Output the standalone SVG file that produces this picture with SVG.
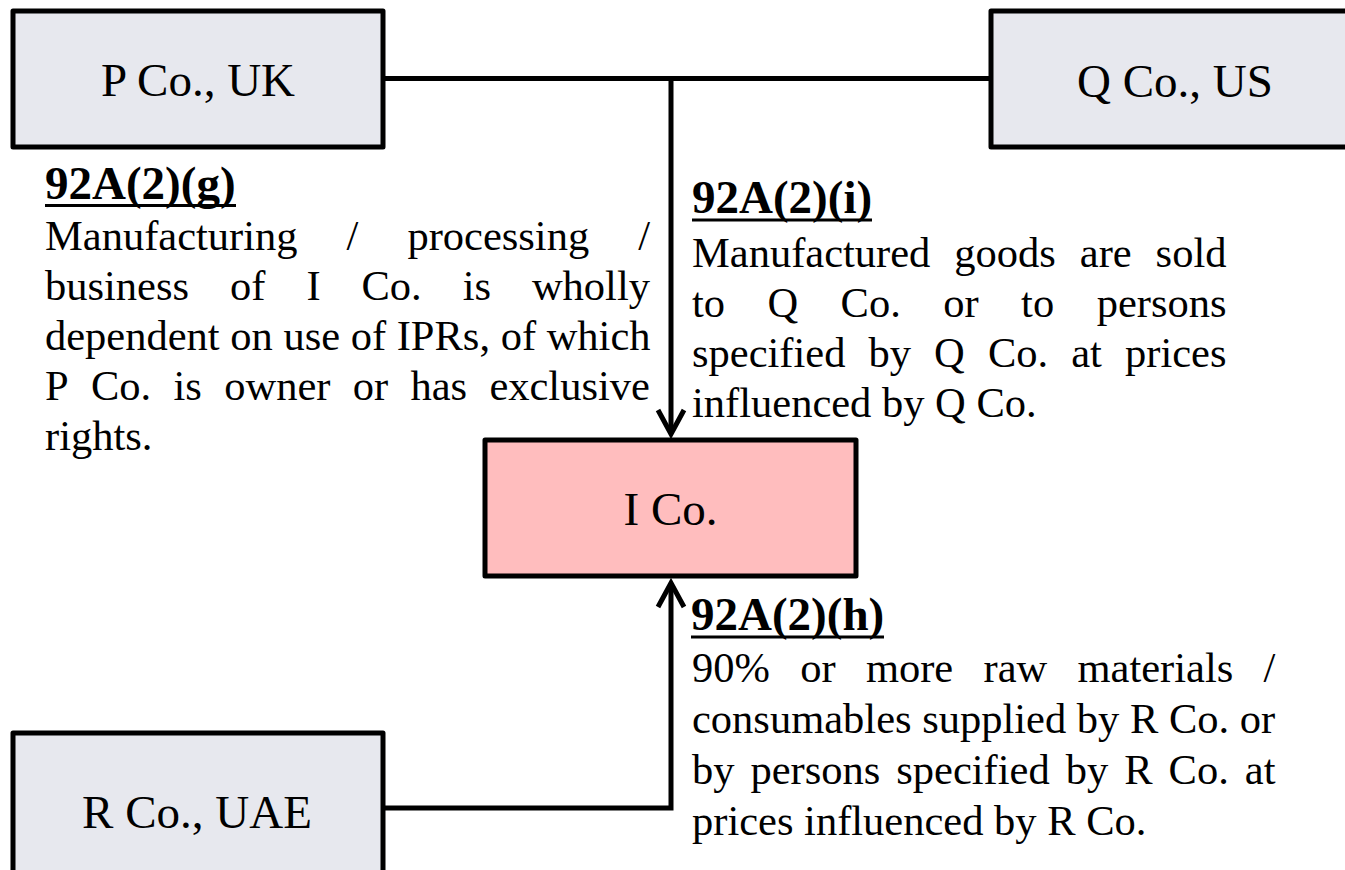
<svg xmlns="http://www.w3.org/2000/svg" width="1345" height="870" viewBox="0 0 1345 870">
  <style>
    text { font-family: "Liberation Serif", "Times New Roman", serif; fill: #000; }
    .lbl { font-size: 47px; text-anchor: middle; }
    .hd { font-size: 47px; font-weight: bold; }
    .ul { stroke: #000; stroke-width: 3; }
    .bd { font-size: 42.5px; }
    .box { stroke: #000; stroke-width: 5; stroke-linejoin: round; }
    .ext { fill: #E7E8EE; }
    .main { fill: #FFBDBE; }
    .conn { fill: none; stroke: #000; stroke-width: 5; }
  </style>
  <defs>
    <marker id="arr" markerUnits="userSpaceOnUse" markerWidth="40" markerHeight="40" viewBox="-30 -20 40 40" refX="0" refY="0" orient="auto" overflow="visible">
      <path d="M-24,-13 L0,0 L-24,13" fill="none" stroke="#000" stroke-width="5"/>
    </marker>
  </defs>
  <rect width="1345" height="870" fill="#fff"/>

  <g id="connectors">
    <path class="conn" d="M385,78.5 L989,78.5"/>
    <path class="conn" d="M671,78.5 L671,434" marker-end="url(#arr)"/>
    <path class="conn" d="M385,808 L671,808 L671,583" marker-end="url(#arr)"/>
  </g>

  <g id="node-p">
    <rect class="box ext" x="13" y="11" width="370" height="136"/>
    <text class="lbl" x="198" y="96">P Co., UK</text>
  </g>
  <g id="node-q">
    <rect class="box ext" x="991" y="11" width="367" height="136"/>
    <text class="lbl" x="1175" y="97">Q Co., US</text>
  </g>
  <g id="node-i">
    <rect class="box main" x="485" y="440" width="371" height="136"/>
    <text class="lbl" x="670.5" y="525">I Co.</text>
  </g>
  <g id="node-r">
    <rect class="box ext" x="13" y="733" width="370" height="160"/>
    <text class="lbl" x="197" y="828">R Co., UAE</text>
  </g>

  <g id="note-g">
    <text class="hd" x="45" y="199">92A(2)(g)</text>
    <line class="ul" x1="45" y1="205.5" x2="236" y2="205.5"/>
    <text class="bd" y="250"><tspan x="45">Manufacturing</tspan><tspan x="346.6">/</tspan><tspan x="407.4">processing</tspan><tspan x="638.2">/</tspan></text>
    <text class="bd" y="300"><tspan x="45">business</tspan><tspan x="230">of</tspan><tspan x="306.4">I</tspan><tspan x="361.5">Co.</tspan><tspan x="462.7">is</tspan><tspan x="531.9">wholly</tspan></text>
    <text class="bd" x="45" y="350">dependent on use of IPRs, of which</text>
    <text class="bd" y="400"><tspan x="45">P</tspan><tspan x="91">Co.</tspan><tspan x="173.5">is</tspan><tspan x="224.2">owner</tspan><tspan x="352.7">or</tspan><tspan x="410.5">has</tspan><tspan x="489.4">exclusive</tspan></text>
    <text class="bd" x="45" y="450">rights.</text>
  </g>

  <g id="note-i">
    <text class="hd" x="692" y="213">92A(2)(i)</text>
    <line class="ul" x1="692" y1="220" x2="872" y2="220"/>
    <text class="bd" y="267"><tspan x="692">Manufactured</tspan><tspan x="954.3">goods</tspan><tspan x="1079.8">are</tspan><tspan x="1155.6">sold</tspan></text>
    <text class="bd" y="317"><tspan x="692">to</tspan><tspan x="767.5">Q</tspan><tspan x="840.6">Co.</tspan><tspan x="943.3">or</tspan><tspan x="1021.1">to</tspan><tspan x="1096.7">persons</tspan></text>
    <text class="bd" y="367"><tspan x="692">specified</tspan><tspan x="868.5">by</tspan><tspan x="934.1">Q</tspan><tspan x="987.9">Co.</tspan><tspan x="1071.2">at</tspan><tspan x="1125">prices</tspan></text>
    <text class="bd" x="692" y="417">influenced by Q Co.</text>
  </g>

  <g id="note-h">
    <text class="hd" x="691" y="630">92A(2)(h)</text>
    <line class="ul" x1="691" y1="637" x2="884" y2="637"/>
    <text class="bd" y="682"><tspan x="692">90%</tspan><tspan x="800.2">or</tspan><tspan x="865.9">more</tspan><tspan x="983.5">raw</tspan><tspan x="1077.5">materials</tspan><tspan x="1263.6">/</tspan></text>
    <text class="bd" x="692" y="733">consumables supplied by R Co. or</text>
    <text class="bd" y="784"><tspan x="692">by</tspan><tspan x="750.5">persons</tspan><tspan x="896.3">specified</tspan><tspan x="1065.8">by</tspan><tspan x="1124.3">R</tspan><tspan x="1168.6">Co.</tspan><tspan x="1244.8">at</tspan></text>
    <text class="bd" x="692" y="835">prices influenced by R Co.</text>
  </g>
</svg>
